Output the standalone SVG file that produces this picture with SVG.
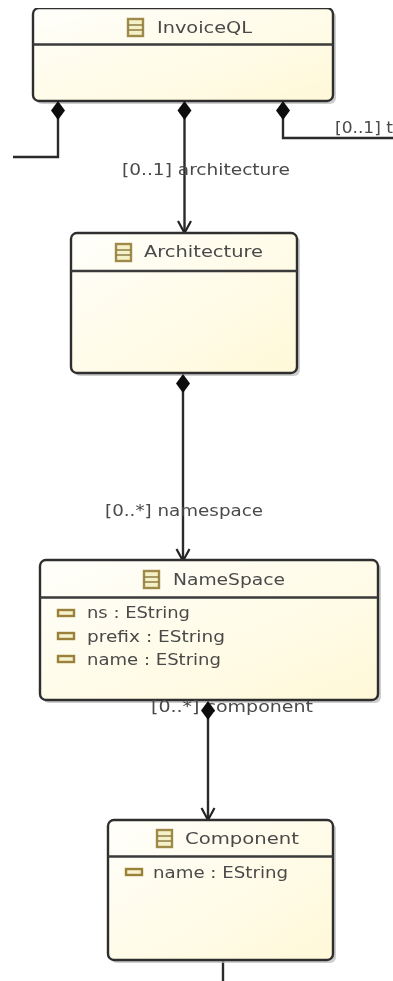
<svg xmlns="http://www.w3.org/2000/svg" width="393" height="981" viewBox="0 0 393 981">
<style>
.box{fill:url(#g);stroke:#2e2e2e;stroke-width:2.400}
.shadow{fill:#bdbdbd;opacity:.75}
.sep{stroke:#3a3a3a;stroke-width:2.400}
.conn{fill:none;stroke:#2a2a2a;stroke-width:2.400}
.head{fill:none;stroke:#222;stroke-width:2.200}
text{font-family:"DejaVu Sans",sans-serif;font-size:16px;fill:#4a4a4a}
.ci{fill:#f4f0c8;stroke:#a08a4a;stroke-width:2.400}
.cl{stroke:#8f7d45;stroke-width:1.500}
.at{fill:#f6f2cf;stroke:#9a8038;stroke-width:2.400}
</style>
<defs>
<linearGradient id="g" x1="0" y1="0" x2="1" y2="1"><stop offset="0" stop-color="#fffffb"/><stop offset="1" stop-color="#fff8d8"/></linearGradient>
<filter id="soft" x="0" y="0" width="100%" height="100%"><feGaussianBlur stdDeviation="0.400"/></filter>
<path id="d" d="M0 0L7 9.500L0 19L-7 9.500Z" fill="#111"/>
<g id="cls"><rect class="ci" x="0" y="0" width="15" height="17"/><path class="cl" d="M0 6H15M0 11H15"/></g>
<rect id="att" class="at" width="16" height="6"/>
</defs>
<rect width="393" height="981" fill="#fff"/>
<g filter="url(#soft)">
<g id="connectors">
<path class="conn" d="M58 112V157H13"/>
<path class="conn" d="M184.500 112V232"/>
<path class="head" d="M178 221L184.500 233L191 221"/>
<path class="conn" d="M283 112V138H393"/>
<path class="conn" d="M183 384V560"/>
<path class="head" d="M176.500 549L183 561L189.500 549"/>
<path class="conn" d="M208 712V819"/>
<path class="head" d="M201.500 808L208 820L214.500 808"/>
<path class="conn" d="M223 960V981"/>
</g>
<g id="invoiceql">
<rect class="shadow" x="36" y="11" width="300" height="93" rx="6"/>
<rect class="box" x="33" y="8" width="300" height="93" rx="6"/>
<path class="sep" d="M33 44.500H333"/>
<use href="#cls" x="128" y="19"/>
<text x="157" y="33" textLength="95" lengthAdjust="spacingAndGlyphs">InvoiceQL</text>
</g>
<g id="architecture">
<rect class="shadow" x="74" y="236" width="226" height="140" rx="6"/>
<rect class="box" x="71" y="233" width="226" height="140" rx="6"/>
<path class="sep" d="M71 271H297"/>
<use href="#cls" x="116" y="244"/>
<text x="144" y="257" textLength="119" lengthAdjust="spacingAndGlyphs">Architecture</text>
</g>
<g id="namespace">
<rect class="shadow" x="43" y="563" width="338" height="140" rx="6"/>
<rect class="box" x="40" y="560" width="338" height="140" rx="6"/>
<path class="sep" d="M40 597.500H378"/>
<use href="#cls" x="144" y="571"/>
<text x="173" y="585" textLength="112" lengthAdjust="spacingAndGlyphs">NameSpace</text>
<use href="#att" x="58" y="610"/>
<text x="87" y="618" textLength="103" lengthAdjust="spacingAndGlyphs">ns : EString</text>
<use href="#att" x="58" y="633"/>
<text x="87" y="642" textLength="138" lengthAdjust="spacingAndGlyphs">prefix : EString</text>
<use href="#att" x="58" y="656"/>
<text x="87" y="665" textLength="134" lengthAdjust="spacingAndGlyphs">name : EString</text>
</g>
<g id="component">
<rect class="shadow" x="111" y="823" width="225" height="140" rx="6"/>
<rect class="box" x="108" y="820" width="225" height="140" rx="6"/>
<path class="sep" d="M108 856.500H333"/>
<use href="#cls" x="157" y="830"/>
<text x="185" y="844" textLength="114" lengthAdjust="spacingAndGlyphs">Component</text>
<use href="#att" x="126" y="869"/>
<text x="153" y="878" textLength="135" lengthAdjust="spacingAndGlyphs">name : EString</text>
</g>
<g id="labels">
<text x="335" y="133" textLength="58" lengthAdjust="spacingAndGlyphs">[0..1] t</text>
<text x="122" y="175" textLength="168" lengthAdjust="spacingAndGlyphs">[0..1] architecture</text>
<text x="105" y="516" textLength="158" lengthAdjust="spacingAndGlyphs">[0..*] namespace</text>
<text x="151" y="712" textLength="162" lengthAdjust="spacingAndGlyphs">[0..*] component</text>
<use href="#d" x="58" y="101"/>
<use href="#d" x="184.500" y="101"/>
<use href="#d" x="283" y="101"/>
<use href="#d" x="183" y="374"/>
<use href="#d" x="208" y="701"/>
</g>
</g>
</svg>
